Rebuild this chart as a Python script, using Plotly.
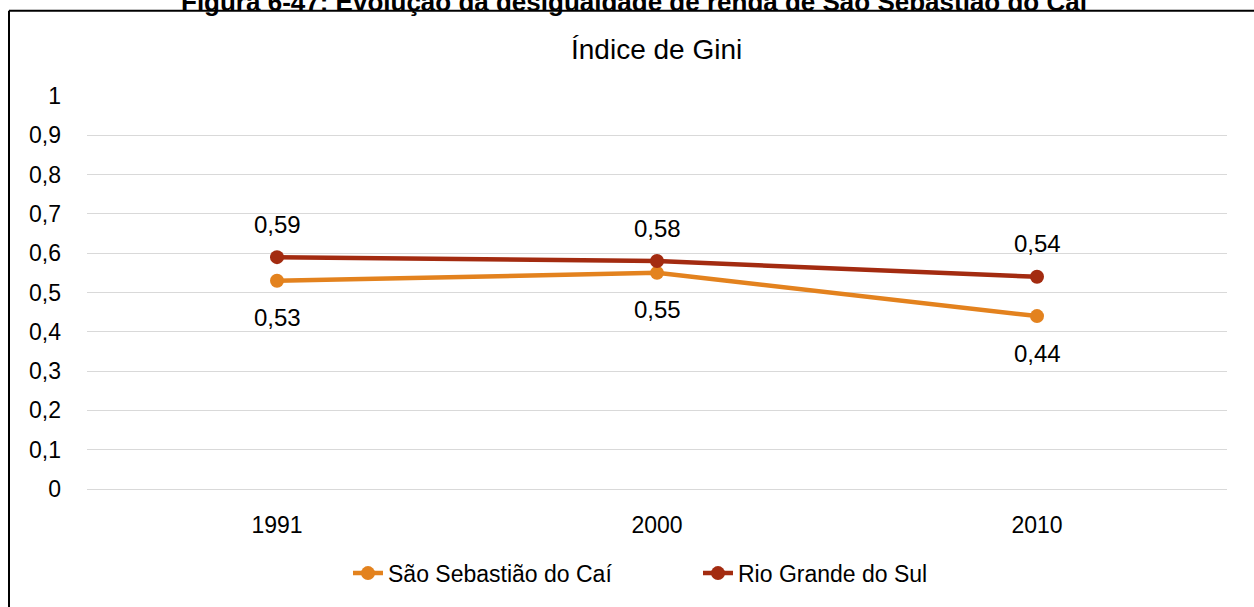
import plotly.graph_objects as go

years = ["1991", "2000", "2010"]
ssc = [0.53, 0.55, 0.44]
rs = [0.59, 0.58, 0.54]
ssc_name = "São Sebastião do Caí"
rs_name = "Rio Grande do Sul"
yticks = [0, 0.1, 0.2, 0.3, 0.4, 0.5, 0.6, 0.7, 0.8, 0.9, 1]
ytick_labels = ["0", "0,1", "0,2", "0,3", "0,4", "0,5", "0,6", "0,7", "0,8", "0,9", "1"]

C_SSC = "#E3821E"
C_RS = "#A32B10"
FONT = "Liberation Sans, Arial, sans-serif"

def fmt(v):
    return f"{v:.2f}".replace(".", ",")

fig = go.Figure()
fig.add_trace(go.Scatter(x=years, y=ssc, name=ssc_name, mode="lines+markers",
                         line=dict(color=C_SSC, width=4.5), marker=dict(size=14, color=C_SSC)))
fig.add_trace(go.Scatter(x=years, y=rs, name=rs_name, mode="lines+markers",
                         line=dict(color=C_RS, width=4.5), marker=dict(size=14, color=C_RS)))

ann = []
for i, v in enumerate(rs):
    ann.append(dict(x=i, y=v, xref="x", yref="y", text=fmt(v), showarrow=False, yshift=33,
                    font=dict(size=24, color="#000000", family=FONT)))
for i, v in enumerate(ssc):
    ann.append(dict(x=i, y=v, xref="x", yref="y", text=fmt(v), showarrow=False, yshift=-37,
                    font=dict(size=24, color="#000000", family=FONT)))

L, R, T, B = 87, 27, 96, 114
W, H = 1254, 607
pw, ph = W - L - R, H - T - B
def px(x):
    return (x - L) / pw
def py(y):
    return (H - B - y) / ph

ann.append(dict(xref="paper", yref="paper", x=px(656), y=py(49), text="Índice de Gini",
                showarrow=False, font=dict(size=28, color="#000000", family=FONT),
                xanchor="center", yanchor="middle"))
ann.append(dict(xref="paper", yref="paper", x=px(634), y=py(1),
                text="<b>Figura 6-47: Evolução da desigualdade de renda de São Sebastião do Caí</b>",
                showarrow=False, font=dict(size=26, color="#000000", family=FONT),
                xanchor="center", yanchor="middle"))

shapes = [
    dict(type="line", xref="paper", yref="paper", x0=px(9), x1=px(1260), y0=py(10), y1=py(10),
         line=dict(color="#000000", width=2)),
    dict(type="line", xref="paper", yref="paper", x0=px(9), x1=px(9), y0=py(10), y1=py(615),
         line=dict(color="#000000", width=2)),
]

fig.update_layout(
    width=W, height=H,
    margin=dict(l=L, r=R, t=T, b=B),
    paper_bgcolor="white", plot_bgcolor="white",
    font=dict(family=FONT, size=23, color="#000000"),
    showlegend=True,
    legend=dict(orientation="h", x=px(348), xanchor="left", y=py(578), yanchor="middle",
                font=dict(size=23, family=FONT), itemwidth=30, entrywidth=305),
    annotations=ann,
    shapes=shapes,
)
fig.update_xaxes(type="category", range=[-0.5, 2.5], showgrid=False, showline=False,
                 zeroline=False, ticks="", ticklabelstandoff=20,
                 tickfont=dict(size=23, family=FONT))
fig.update_yaxes(range=[0, 1], tickvals=yticks, ticktext=ytick_labels, showgrid=True,
                 gridcolor="#D9D9D9", gridwidth=1, zeroline=True, zerolinecolor="#D9D9D9",
                 zerolinewidth=1, showline=False, ticks="", ticklabelstandoff=25,
                 tickfont=dict(size=23, family=FONT))

fig.write_html("out.html", config={"displayModeBar": False},
               post_script="document.body.style.margin='0px';")
